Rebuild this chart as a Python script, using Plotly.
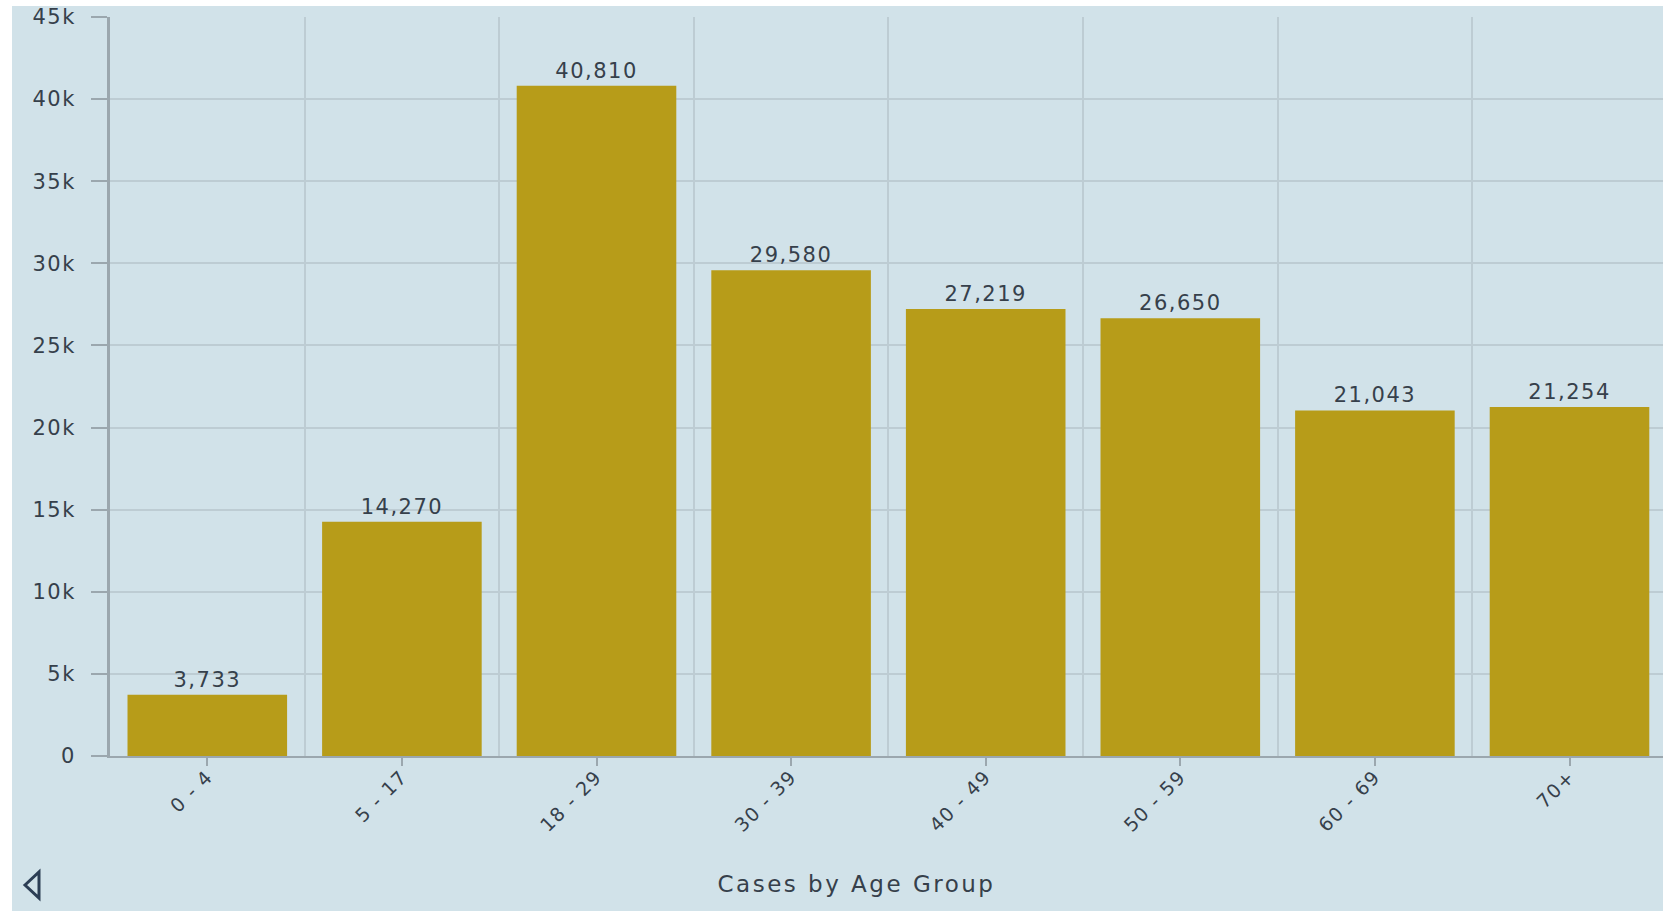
import plotly.graph_objects as go

categories = ["0 - 4", "5 - 17", "18 - 29", "30 - 39", "40 - 49", "50 - 59", "60 - 69", "70+"]
cases = [3733, 14270, 40810, 29580, 27219, 26650, 21043, 21254]
y_tick_vals = [0, 5000, 10000, 15000, 20000, 25000, 30000, 35000, 40000, 45000]
y_tick_labels = ["0", "5k", "10k", "15k", "20k", "25k", "30k", "35k", "40k", "45k"]
x_title = "Cases by Age Group"

BG = "#d1e2e9"
BAR = "#b79c19"
GRID = "#bdccd3"
AXIS = "#9ba7ae"
TEXT = "#36404b"
FONT = "DejaVu Sans"

W, H = 1663, 911
L, R, T, B = 110, 0, 17, 155
pw = W - L - R
ph = H - T - B

fig = go.Figure()
fig.add_trace(go.Bar(
    x=categories, y=cases,
    marker=dict(color=BAR, line=dict(width=0)),
    width=0.82,
    texttemplate="%{y:,}", textposition="outside",
    textfont=dict(family=FONT, size=21, color=TEXT),
    cliponaxis=False,
    hoverinfo="x+y",
))
# overlay axis that carries the tick marks at the category centres
fig.add_trace(go.Scatter(x=[0], y=[0], xaxis="x2", mode="markers",
                         marker=dict(opacity=0), showlegend=False, hoverinfo="skip"))

xr = [-0.5, -0.5 + pw / 194.6]
fig.update_layout(
    width=W, height=H,
    margin=dict(l=L, r=R, t=T, b=B, pad=0),
    paper_bgcolor=BG, plot_bgcolor=BG,
    showlegend=False,
    font=dict(family=FONT, size=20, color=TEXT),
    xaxis=dict(
        type="category", range=xr, tickson="boundaries",
        showgrid=True, gridcolor=GRID, gridwidth=2,
        ticks="", tickangle=-45, ticklabelstandoff=0,
        tickfont=dict(family=FONT, size=19, color=TEXT),
        showline=True, linecolor=AXIS, linewidth=2,
        zeroline=False,
    ),
    xaxis2=dict(
        overlaying="x", range=xr, type="linear",
        tickvals=list(range(len(categories))),
        ticks="outside", ticklen=9, tickwidth=2, tickcolor=AXIS,
        showticklabels=False, showgrid=False, zeroline=False, showline=False,
        side="bottom",
    ),
    yaxis=dict(
        range=[0, 45000], tickvals=y_tick_vals, ticktext=y_tick_labels,
        showgrid=True, gridcolor=GRID, gridwidth=2,
        ticks="outside", ticklen=16, tickwidth=2, tickcolor=AXIS,
        ticklabelstandoff=11,
        tickfont=dict(family=FONT, size=21, color=TEXT),
        showline=True, linecolor=AXIS, linewidth=3,
        zeroline=False,
    ),
    annotations=[dict(
        text=x_title, xref="paper", yref="paper",
        x=(856 - L) / pw, y=-(884 - (T + ph)) / ph,
        xanchor="center", yanchor="middle", showarrow=False,
        font=dict(family=FONT, size=23, color=TEXT),
    )],
    shapes=[
        dict(type="rect", xref="paper", yref="paper",
             x0=-L / pw - 0.01, x1=1.01, y0=(ph + T - 6) / ph, y1=(ph + T) / ph + 0.01,
             fillcolor="white", line=dict(width=0), layer="above"),
        dict(type="rect", xref="paper", yref="paper",
             x0=-L / pw - 0.01, x1=-(L - 12) / pw, y0=-B / ph - 0.01, y1=(ph + T) / ph + 0.01,
             fillcolor="white", line=dict(width=0), layer="above"),
        dict(type="path", xref="paper", yref="paper",
             path="M {} {} L {} {} L {} {} Z".format(
                 (25 - L) / pw, -(885 - (T + ph)) / ph,
                 (39 - L) / pw, -(872 - (T + ph)) / ph,
                 (39 - L) / pw, -(898 - (T + ph)) / ph),
             line=dict(color="#2c3e55", width=3), fillcolor="rgba(0,0,0,0)"),
    ],
)

post = """
document.body.style.margin = '0';
document.documentElement.style.overflow = 'hidden';
var gd = document.getElementById('{plot_id}');
function sp(sel, v) { gd.querySelectorAll(sel).forEach(function (t) { t.style.letterSpacing = v; }); }
sp('text.annotation-text', '2.5px');
sp('text.bartext', '1.5px');
sp('g.xtick text', '1.5px');
sp('g.ytick text', '1.5px');
"""

fig.write_html("out.html", post_script=post, config={"displayModeBar": False})
